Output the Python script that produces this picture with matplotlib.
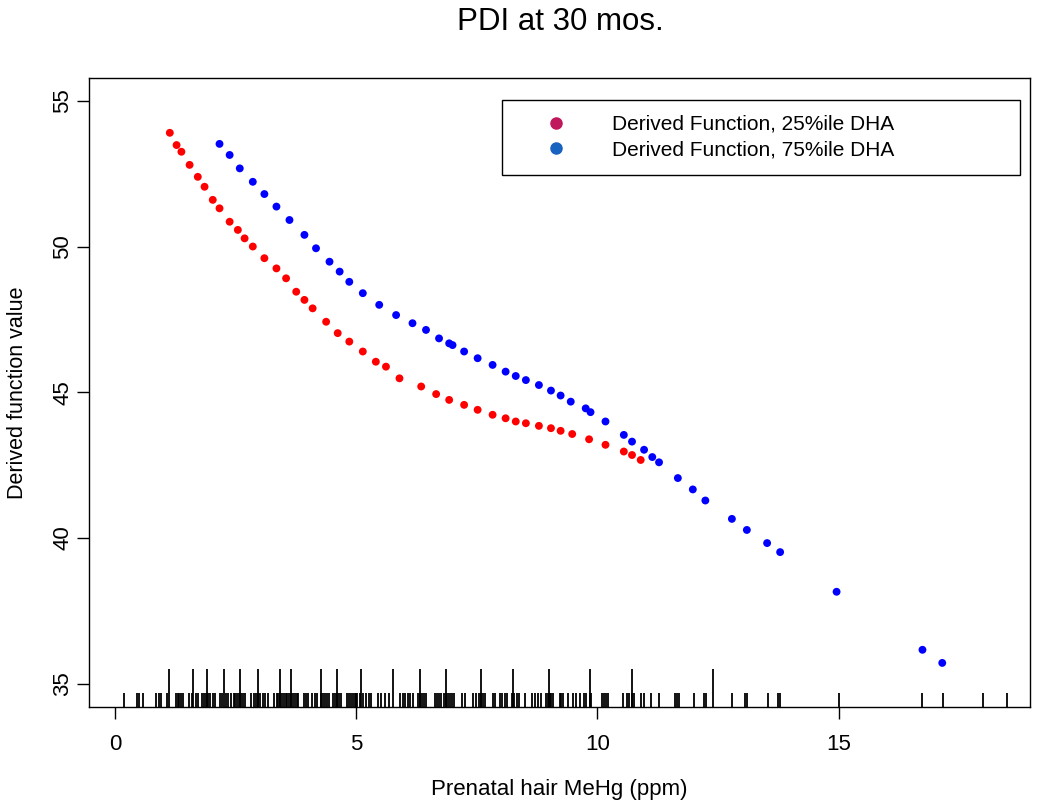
import matplotlib
matplotlib.use("Agg")
import matplotlib.pyplot as plt
from matplotlib.lines import Line2D

plt.rcParams['font.family'] = ['Liberation Sans', 'DejaVu Sans']

# derived function, 25%ile DHA (red)
red_x = [1.14, 1.28, 1.38, 1.55, 1.72, 1.86, 2.03, 2.17, 2.38, 2.55, 2.69, 2.86,
         3.10, 3.35, 3.55, 3.76, 3.93, 4.10, 4.38, 4.62, 4.86, 5.14, 5.41, 5.62,
         5.90, 6.35, 6.66, 6.93, 7.24, 7.52, 7.83, 8.10, 8.31, 8.52, 8.79, 9.04,
         9.24, 9.48, 9.83, 10.17, 10.55, 10.72, 10.90]
red_y = [53.90, 53.48, 53.25, 52.80, 52.39, 52.05, 51.60, 51.31, 50.85, 50.57, 50.28, 50.00,
         49.60, 49.25, 48.91, 48.45, 48.17, 47.88, 47.42, 47.03, 46.74, 46.40, 46.05, 45.88,
         45.48, 45.20, 44.94, 44.74, 44.57, 44.40, 44.23, 44.11, 44.00, 43.94, 43.85, 43.77,
         43.68, 43.57, 43.39, 43.20, 42.97, 42.85, 42.68]

# derived function, 75%ile DHA (blue)
blue_x = [2.17, 2.38, 2.59, 2.86, 3.10, 3.35, 3.62, 3.93, 4.17, 4.45, 4.66, 4.86,
          5.14, 5.48, 5.83, 6.17, 6.45, 6.72, 6.93, 7.00, 7.24, 7.52, 7.83, 8.10,
          8.31, 8.52, 8.79, 9.04, 9.24, 9.45, 9.76, 9.86, 10.17, 10.55, 10.72, 10.97,
          11.14, 11.28, 11.67, 11.98, 12.24, 12.79, 13.10, 13.52, 13.79, 14.96, 16.74, 17.15]
blue_y = [53.52, 53.14, 52.68, 52.22, 51.80, 51.37, 50.91, 50.40, 49.94, 49.48, 49.14, 48.79,
          48.40, 48.00, 47.65, 47.37, 47.14, 46.85, 46.68, 46.62, 46.40, 46.17, 45.94, 45.71,
          45.56, 45.42, 45.25, 45.06, 44.89, 44.68, 44.45, 44.32, 44.00, 43.54, 43.31, 43.03,
          42.78, 42.60, 42.06, 41.67, 41.29, 40.66, 40.28, 39.83, 39.52, 38.16, 36.17, 35.72]

# rug of observed MeHg values
rug_short = [0.19, 0.46, 0.50, 0.59, 0.86, 0.91, 0.96, 1.09, 1.26, 1.30, 1.34, 1.38, 1.41,
             1.53, 1.59, 1.68, 1.73, 1.81, 1.85, 1.89, 1.93, 1.98, 2.03, 2.08, 2.17, 2.23,
             2.30, 2.34, 2.41, 2.46, 2.50, 2.54, 2.58, 2.62, 2.66, 2.70, 2.83, 2.88, 2.93,
             2.97, 3.00, 3.07, 3.12, 3.17, 3.30, 3.36, 3.39, 3.43, 3.47, 3.51, 3.55, 3.57,
             3.61, 3.65, 3.69, 3.73, 3.77, 3.79, 3.92, 3.97, 4.01, 4.09, 4.14, 4.20, 4.27,
             4.31, 4.35, 4.39, 4.43, 4.52, 4.56, 4.60, 4.64, 4.69, 4.81, 4.85, 4.89, 4.93,
             4.97, 4.99, 5.03, 5.08, 5.14, 5.21, 5.26, 5.32, 5.46, 5.52, 5.59, 5.69, 5.92,
             5.97, 6.02, 6.08, 6.12, 6.19, 6.28, 6.32, 6.36, 6.41, 6.45, 6.63, 6.68, 6.72,
             6.77, 6.83, 6.87, 6.91, 6.95, 6.99, 7.03, 7.19, 7.26, 7.43, 7.48, 7.55, 7.59,
             7.63, 7.68, 7.83, 7.88, 7.98, 8.03, 8.08, 8.13, 8.24, 8.28, 8.33, 8.38, 8.50,
             8.65, 8.71, 8.77, 8.83, 8.93, 8.97, 9.01, 9.05, 9.08, 9.22, 9.25, 9.28, 9.40,
             9.50, 9.56, 9.64, 9.72, 9.77, 9.84, 9.87, 10.10, 10.14, 10.18, 10.22, 10.53,
             10.62, 10.66, 10.71, 10.76, 10.90, 10.97, 11.12, 11.28, 11.62, 11.66, 11.70,
             12.00, 12.21, 12.26, 12.79, 13.06, 13.11, 13.53, 13.74, 13.79, 15.00, 16.73,
             17.16, 18.00, 18.50]
rug_tall = [1.12, 1.63, 1.92, 2.26, 2.60, 2.96, 3.43, 3.66, 4.27, 4.60, 5.10, 5.77,
            6.32, 6.86, 7.60, 8.26, 8.99, 9.84, 10.72, 12.40]

x_ticks = [0, 5, 10, 15]
y_ticks = [35, 40, 45, 50, 55]
labels = ['Derived Function, 25%ile DHA', 'Derived Function, 75%ile DHA']
legend_colors = ['#C0185C', '#1862C0']

fig = plt.figure(figsize=(10.5, 8.09), dpi=100)
ax = fig.add_axes([0.085, 0.1265, 0.896, 0.7771])

ax.scatter(red_x, red_y, s=32, color='#FF0000', edgecolors='none', zorder=3)
ax.scatter(blue_x, blue_y, s=32, color='#0000FF', edgecolors='none', zorder=3)

# rug ticks along the bottom
trans = ax.get_xaxis_transform()
ax.vlines(rug_short, 0, 0.0225, transform=trans, color='black', linewidth=1.3)
ax.vlines(rug_tall, 0, 0.0605, transform=trans, color='black', linewidth=1.3)

ax.set_xlim(-0.53, 18.97)
ax.set_ylim(34.22, 55.78)
ax.set_xticks(x_ticks)
ax.set_yticks(y_ticks)
ax.tick_params(axis='both', direction='out', length=8.6, width=1.0, labelsize=16, colors='black')
ax.tick_params(axis='x', pad=11)
ax.tick_params(axis='y', pad=3, labelrotation=90)
for lab in ax.get_yticklabels():
    lab.set_va('center')

for s in ['top', 'bottom', 'left', 'right']:
    ax.spines[s].set_linewidth(1.0)

ax.set_xlabel('Prenatal hair MeHg (ppm)', fontsize=16)
ax.set_ylabel('Derived function value', fontsize=15.5)
ax.xaxis.set_label_coords(0.5, -0.1325)
ax.xaxis.label.set_va('center')
ax.yaxis.set_label_coords(-0.0758, 0.5)
ax.yaxis.label.set_va('center')

fig.text(0.5334, 1 - 22 / 809, 'PDI at 30 mos.', fontsize=22.5, ha='center', va='center')

handles = [Line2D([], [], marker='o', linestyle='none', color=c, markersize=8) for c in legend_colors]
ax.legend(handles, labels, loc='upper left', bbox_to_anchor=(0.4387, 0.0, 0.5507, 0.965),
          mode='expand', borderaxespad=0, fontsize=15, frameon=True, fancybox=False,
          edgecolor='black', framealpha=1, borderpad=0.72, handlelength=3.75,
          handletextpad=0.82, labelspacing=0.32)
ax.get_legend().get_frame().set_linewidth(1.0)

fig.savefig('out.png', dpi=100)
